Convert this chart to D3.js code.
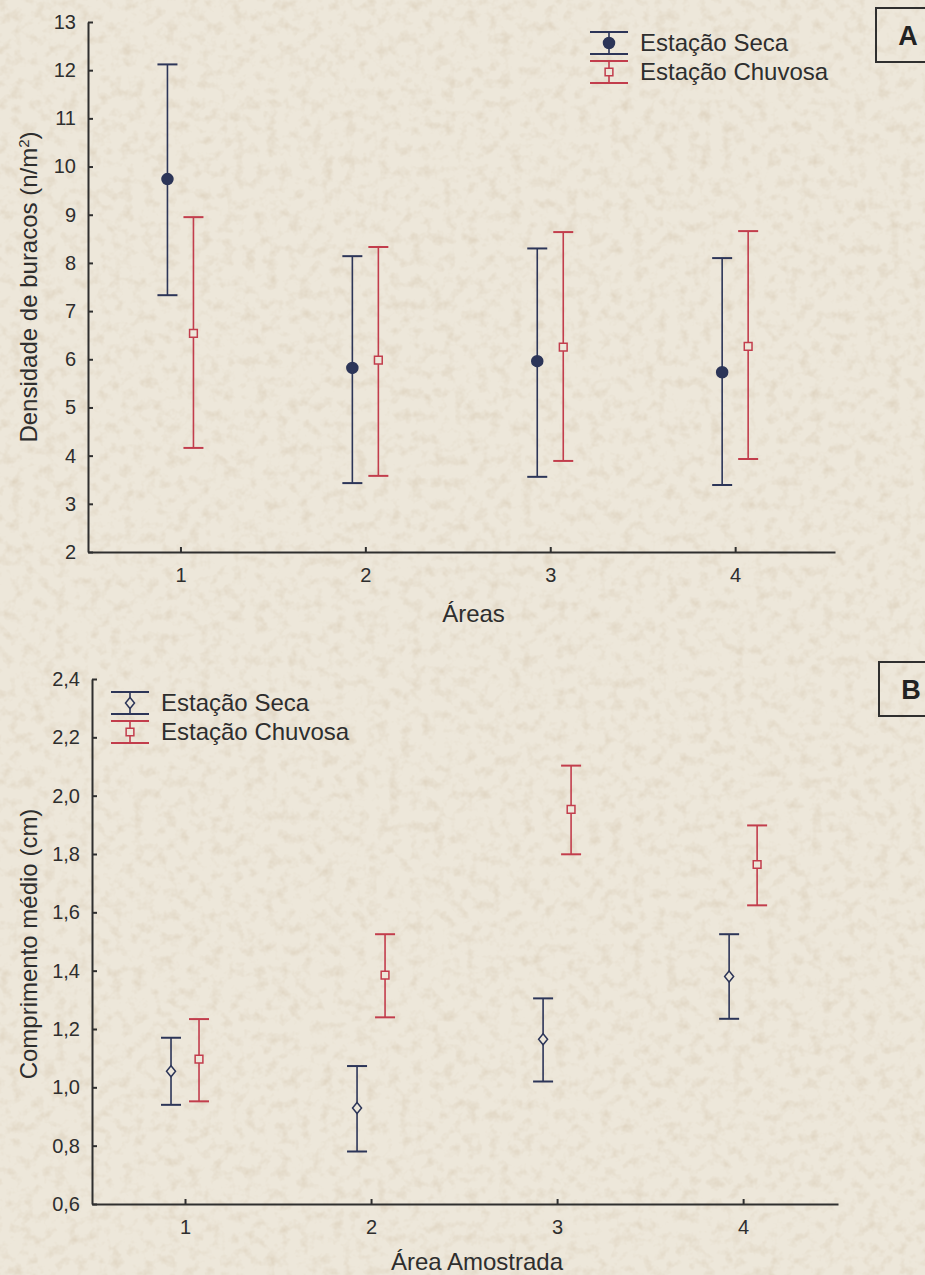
<!DOCTYPE html>
<html>
<head>
<meta charset="utf-8">
<script src="https://cdn.jsdelivr.net/npm/d3@7"></script>
<style>
  body { margin: 0; background: #ece6d9; }
  svg { display: block; }
  .axis path, .axis line { stroke: #2f2f2f; stroke-width: 2; }
  .axis text { font-family: "Liberation Sans", Arial, sans-serif; font-size: 20px; fill: #2e2e2e; }
  .title { font-family: "Liberation Sans", Arial, sans-serif; font-size: 24px; fill: #2e2e2e; }
</style>
</head>
<body>
<div class="chart"></div>
<script>
// Data
const areas = [1, 2, 3, 4];

// A: densidade de buracos
const secaA_mean = [9.74, 5.82, 5.96, 5.73];
const secaA_low  = [7.33, 3.43, 3.56, 3.39];
const secaA_high = [12.12, 8.14, 8.30, 8.10];
const chuvA_mean = [6.54, 5.98, 6.25, 6.27];
const chuvA_low  = [4.16, 3.58, 3.89, 3.93];
const chuvA_high = [8.95, 8.33, 8.64, 8.66];
const yTicksA = [2, 3, 4, 5, 6, 7, 8, 9, 10, 11, 12, 13];

// B: comprimento medio
const secaB_mean = [1.055, 0.929, 1.165, 1.380];
const secaB_low  = [0.940, 0.780, 1.020, 1.235];
const secaB_high = [1.170, 1.073, 1.305, 1.525];
const chuvB_mean = [1.097, 1.385, 1.953, 1.764];
const chuvB_low  = [0.952, 1.240, 1.799, 1.624];
const chuvB_high = [1.234, 1.525, 2.103, 1.898];
const yTicksB = [0.6, 0.8, 1.0, 1.2, 1.4, 1.6, 1.8, 2.0, 2.2, 2.4];

const seriesNames = ['Estação Seca', 'Estação Chuvosa'];
const navy = '#2c3558';
const red = '#c23d4c';
const paper = '#ede7da';

const W = 925, H = 1275;
const svg = d3.select('.chart').append('svg').attr('width', W).attr('height', H);

// paper background (fine fibres)
const defs = svg.append('defs');
const f = defs.append('filter').attr('id', 'paper').attr('x', 0).attr('y', 0).attr('width', 1).attr('height', 1);
f.append('feTurbulence').attr('type', 'fractalNoise').attr('baseFrequency', 0.09).attr('numOctaves', 3).attr('seed', 11);
f.append('feColorMatrix').attr('type', 'matrix')
 .attr('values', '0 0 0 0 0.66  0 0 0 0 0.56  0 0 0 0 0.42  1.1 0 0 0 -0.52');
svg.append('rect').attr('width', W).attr('height', H).attr('fill', paper);
svg.append('rect').attr('width', W).attr('height', H).attr('filter', 'url(#paper)');

const fmtComma = d => d3.format('.1f')(d).replace('.', ',');

function zip(mean, low, high) {
  return areas.map((a, i) => ({ area: a, mean: mean[i], low: low[i], high: high[i] }));
}

// draw one panel
function panel(cfg) {
  const x = d3.scaleLinear().domain(cfg.xDomain).range(cfg.xRange);
  const y = d3.scaleLinear().domain(cfg.yDomain).range(cfg.yRange);
  const g = svg.append('g');

  g.append('g').attr('class', 'axis')
   .attr('transform', `translate(0,${cfg.yRange[0]})`)
   .call(d3.axisBottom(x).tickValues(areas).tickFormat(d3.format('d'))
         .tickSizeInner(-5).tickSizeOuter(0).tickPadding(16));

  g.append('g').attr('class', 'axis')
   .attr('transform', `translate(${cfg.xRange[0]},0)`)
   .call(d3.axisLeft(y).tickValues(cfg.yTicks).tickFormat(cfg.tickFmt)
         .tickSizeInner(-5).tickSizeOuter(0).tickPadding(12));

  // titles
  g.append('text').attr('class', 'title')
   .attr('x', (cfg.xRange[0] + cfg.xRange[1]) / 2 + 12).attr('y', cfg.xTitleY)
   .attr('text-anchor', 'middle').text(cfg.xTitle);

  const yt = g.append('text').attr('class', 'title')
   .attr('transform', `translate(37,${cfg.yTitleY}) rotate(-90)`)
   .attr('text-anchor', 'middle');
  cfg.yTitle(yt);

  // error bars
  cfg.series.forEach(s => {
    const sg = g.append('g');
    const bars = sg.selectAll('g').data(s.data).join('g')
      .attr('transform', d => `translate(${x(d.area) + s.dx},0)`);
    bars.append('line').attr('y1', d => y(d.low)).attr('y2', d => y(d.high))
      .attr('stroke', s.color).attr('stroke-width', 1.6);
    bars.append('line').attr('x1', -10).attr('x2', 10).attr('y1', d => y(d.high)).attr('y2', d => y(d.high))
      .attr('stroke', s.color).attr('stroke-width', 2);
    bars.append('line').attr('x1', -10).attr('x2', 10).attr('y1', d => y(d.low)).attr('y2', d => y(d.low))
      .attr('stroke', s.color).attr('stroke-width', 2);
    bars.append('path').attr('transform', d => `translate(0,${y(d.mean)})`)
      .attr('d', s.marker).attr('fill', s.fill).attr('stroke', s.color).attr('stroke-width', 1.5);
  });

  // legend
  const lg = g.append('g').attr('transform', `translate(${cfg.legend[0]},${cfg.legend[1]})`);
  cfg.series.forEach((s, i) => {
    const row = lg.append('g').attr('transform', `translate(0,${i * 29})`);
    row.append('line').attr('x1', -19).attr('x2', 19).attr('y1', 0).attr('y2', 0).attr('stroke', s.color).attr('stroke-width', 2.2);
    row.append('line').attr('x1', -19).attr('x2', 19).attr('y1', 22).attr('y2', 22).attr('stroke', s.color).attr('stroke-width', 2.2);
    row.append('line').attr('y1', 0).attr('y2', 22).attr('stroke', s.color).attr('stroke-width', 1.6);
    row.append('path').attr('transform', 'translate(0,11)').attr('d', s.marker)
      .attr('fill', s.fill).attr('stroke', s.color).attr('stroke-width', 1.5);
    row.append('text').attr('class', 'title').attr('x', 31).attr('y', 19).text(seriesNames[i]);
  });

  // panel letter box
  const bx = g.append('g').attr('transform', `translate(${cfg.box[0]},${cfg.box[1]})`);
  bx.append('rect').attr('width', 60).attr('height', 54).attr('fill', 'none')
    .attr('stroke', '#2f2f2f').attr('stroke-width', 2);
  bx.append('text').attr('x', 32).attr('y', 37).attr('text-anchor', 'middle')
    .style('font-family', '"Liberation Sans", Arial, sans-serif').style('font-weight', 'bold')
    .style('font-size', '27px').style('fill', '#222').text(cfg.letter);
}

const circle = d3.symbol().type(d3.symbolCircle).size(95)();
const square = d3.symbol().type(d3.symbolSquare).size(60)();
const diamond = 'M0,-5.5L4.5,0L0,5.5L-4.5,0Z';

panel({
  xDomain: [0.5, 4.54], xRange: [88, 835],
  yDomain: [2, 13], yRange: [552, 22],
  yTicks: yTicksA, tickFmt: d3.format('d'),
  xTitle: 'Áreas', xTitleY: 622,
  yTitleY: 287,
  yTitle: t => {
    t.append('tspan').text('Densidade de buracos (n/m');
    t.append('tspan').attr('dy', -8).style('font-size', '15px').text('2');
    t.append('tspan').attr('dy', 8).text(')');
  },
  series: [
    { data: zip(secaA_mean, secaA_low, secaA_high), color: navy, fill: navy, marker: circle, dx: -13 },
    { data: zip(chuvA_mean, chuvA_low, chuvA_high), color: red, fill: paper, marker: square, dx: 13 }
  ],
  legend: [609, 32],
  letter: 'A', box: [876, 8]
});

panel({
  xDomain: [0.5, 4.51], xRange: [92, 838],
  yDomain: [0.6, 2.4], yRange: [1204, 679],
  yTicks: yTicksB, tickFmt: fmtComma,
  xTitle: 'Área Amostrada', xTitleY: 1270,
  yTitleY: 944,
  yTitle: t => t.text('Comprimento médio (cm)'),
  series: [
    { data: zip(secaB_mean, secaB_low, secaB_high), color: navy, fill: paper, marker: diamond, dx: -14 },
    { data: zip(chuvB_mean, chuvB_low, chuvB_high), color: red, fill: paper, marker: square, dx: 14 }
  ],
  legend: [130, 692],
  letter: 'B', box: [879, 662]
});
</script>
</body>
</html>
